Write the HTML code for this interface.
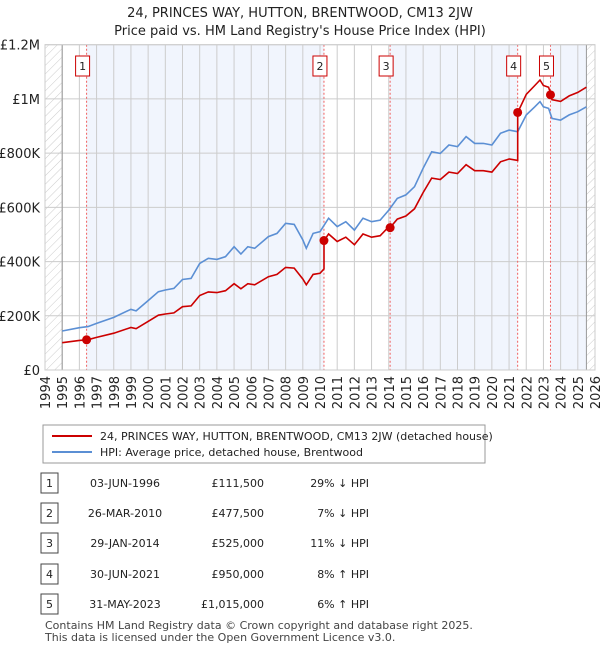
<!DOCTYPE html>
<html><head><meta charset="utf-8"><style>
body{margin:0;background:#fff;font-family:"Liberation Sans","DejaVu Sans",sans-serif;}
#wrap{position:relative;width:600px;height:650px;overflow:hidden}
svg text{font-family:"DejaVu Sans","Liberation Sans",sans-serif}
</style></head><body><div id="wrap">
<svg id="svg" width="600" height="650" xmlns="http://www.w3.org/2000/svg"></svg>
</div>
<script>
const hpiYears=[1995,1996,1996.5,1997,1998,1999,1999.3,2000,2000.6,2001,2001.5,2002,2002.5,2003,2003.5,2004,2004.5,2005,2005.4,2005.8,2006.2,2007,2007.5,2008,2008.5,2009,2009.2,2009.6,2010,2010.5,2011,2011.5,2012,2012.5,2013,2013.5,2014,2014.5,2015,2015.5,2016,2016.5,2017,2017.5,2018,2018.5,2019,2019.5,2020,2020.5,2021,2021.5,2022,2022.5,2022.8,2023,2023.3,2023.5,2024,2024.5,2025,2025.5];
const hpiValues=[144,156,160,172,194,224,218,256,289,295,301,334,338,393,412,408,418,455,428,455,449,492,504,541,537,480,449,504,510,560,529,547,516,560,547,553,590,633,646,676,744,805,799,830,824,861,836,836,830,873,885,879,941,971,990,971,965,928,922,941,953,971];
const saleDates=[1996.42,2010.23,2014.08,2021.5,2023.41];
const salePrices=[111500,477500,525000,950000,1015000];
const saleLabels=["03-JUN-1996","26-MAR-2010","29-JAN-2014","30-JUN-2021","31-MAY-2023"];
const salePriceText=["£111,500","£477,500","£525,000","£950,000","£1,015,000"];
const saleHpiText=["29% ↓ HPI","7% ↓ HPI","11% ↓ HPI","8% ↑ HPI","6% ↑ HPI"];
const yTicks=[0,200000,400000,600000,800000,1000000,1200000];
const yTickLabels=["£0","£200K","£400K","£600K","£800K","£1M","£1.2M"];

const NS="http://www.w3.org/2000/svg";const svg=document.getElementById('svg');
const X0=45,X1=595,Y0=370,Y1=44.7;
const xs=t=>X0+(t-1994)/32*(X1-X0);
const ys=v=>Y0-v/1200000*(Y0-Y1);
function el(tag,a,txt){const e=document.createElementNS(NS,tag);for(const k in a)e.setAttribute(k,a[k]);if(txt!==undefined)e.textContent=txt;svg.appendChild(e);return e;}
function hpiAt(t){for(let i=0;i<hpiYears.length-1;i++){if(t<=hpiYears[i+1]){const f=(t-hpiYears[i])/(hpiYears[i+1]-hpiYears[i]);return (hpiValues[i]+f*(hpiValues[i+1]-hpiValues[i]))*1000;}}return hpiValues[hpiValues.length-1]*1000;}

// hatch pattern
const defs=el('defs',{});
defs.innerHTML='<pattern id="hatch" width="6" height="6" patternUnits="userSpaceOnUse" patternTransform="rotate(45)"><line x1="0" y1="0" x2="0" y2="6" stroke="#ccc" stroke-width="1"/></pattern>';
let e;
e=el('rect',{x:X0,y:Y1,width:xs(1995)-X0,height:Y0-Y1,fill:'url(#hatch)'});
e=el('rect',{x:xs(2025.5),y:Y1,width:X1-xs(2025.5),height:Y0-Y1,fill:'url(#hatch)'});
// shaded bands
const bands=[[saleDates[0],saleDates[1]],[saleDates[2],saleDates[3]],[saleDates[4],2025.5]];
bands.forEach((b,i)=>{const r=el('rect',{x:xs(b[0]),y:Y1,width:xs(b[1])-xs(b[0]),height:Y0-Y1,fill:'#eef3fc',opacity:0.8});});
// grid
for(let yr=1994;yr<=2026;yr++){const l=el('line',{x1:xs(yr),x2:xs(yr),y1:Y1,y2:Y0,stroke:'#ccc','stroke-width':1});
 const tx=el('text',{x:0,y:0,'font-size':13,fill:'#222','text-anchor':'end',transform:`translate(${xs(yr)+5},${Y0+6}) rotate(-90)`},String(yr));}
yTicks.forEach((v,i)=>{const l=el('line',{x1:X0,x2:X1,y1:ys(v),y2:ys(v),stroke:'#ccc','stroke-width':1});
 const t=el('text',{x:40,y:ys(v)+5,'font-size':13,fill:'#222','text-anchor':'end'},yTickLabels[i]);});
e=el('line',{x1:xs(1995),x2:xs(1995),y1:Y1,y2:Y0,stroke:'#999'});
e=el('line',{x1:xs(2025.5),x2:xs(2025.5),y1:Y1,y2:Y0,stroke:'#999'});
// sale dashed lines + boxes
saleDates.forEach((d,i)=>{const l=el('line',{x1:xs(d),x2:xs(d),y1:Y1,y2:Y0,stroke:'#f06060','stroke-width':1,'stroke-dasharray':'2,2'});
 const bx=xs(d)-4;const r=el('rect',{x:bx-7,y:56,width:14,height:20,fill:'#fff',stroke:'#c00'});
 const t=el('text',{x:bx,y:70,'font-size':11,'text-anchor':'middle',fill:'#222'},String(i+1));});
// HPI line
let p='';hpiYears.forEach((t,i)=>{p+=(i?'L':'M')+xs(t).toFixed(1)+','+ys(hpiValues[i]*1000).toFixed(1);});
e=el('path',{d:p,fill:'none',stroke:'#5b8fd4','stroke-width':1.6});
// price paid line (HPI-indexed from sales)
const pts=[];
hpiYears.forEach(t=>pts.push(t));saleDates.forEach(t=>{pts.push(t);pts.push(t+0.0001);});
pts.sort((a,b)=>a-b);
function ratioAt(t){let idx=0;for(let i=0;i<saleDates.length;i++)if(t>=saleDates[i])idx=i;if(t===saleDates[idx]&&idx>0)idx=idx-1;return salePrices[idx]/hpiAt(saleDates[idx]);}
let rp='';pts.forEach((t,i)=>{rp+=(i?'L':'M')+xs(t).toFixed(1)+','+ys(hpiAt(t)*ratioAt(t)).toFixed(1);});
e=el('path',{d:rp,fill:'none',stroke:'#cc0000','stroke-width':1.6});
saleDates.forEach((d,i)=>{const c=el('circle',{cx:xs(d),cy:ys(salePrices[i]),r:4.5,fill:'#cc0000'});});
e=el('rect',{x:X0,y:Y1,width:X1-X0,height:Y0-Y1,fill:'none',stroke:'#ccc'});
// titles
e=el('text',{x:300,y:17,'font-size':13,'text-anchor':'middle',fill:'#222'},'24, PRINCES WAY, HUTTON, BRENTWOOD, CM13 2JW');
e=el('text',{x:300,y:35,'font-size':13,'text-anchor':'middle',fill:'#222'},"Price paid vs. HM Land Registry's House Price Index (HPI)");
// legend
e=el('rect',{x:43,y:425,width:442,height:38,fill:'#fff',stroke:'#999'});
e=el('line',{x1:52,x2:92,y1:436,y2:436,stroke:'#cc0000','stroke-width':2});
e=el('text',{x:100,y:440,'font-size':11,fill:'#222'},'24, PRINCES WAY, HUTTON, BRENTWOOD, CM13 2JW (detached house)');
e=el('line',{x1:52,x2:92,y1:452,y2:452,stroke:'#5b8fd4','stroke-width':2});
e=el('text',{x:100,y:456,'font-size':11,fill:'#222'},'HPI: Average price, detached house, Brentwood');
// table
const rowY=[483,513,543,574,604];
saleDates.forEach((d,i)=>{const y=rowY[i];
 let r=el('rect',{x:41,y:y-10,width:17,height:20,fill:'#fff',stroke:'#444'});
 let t=el('text',{x:49.5,y:y+4,'font-size':11,'text-anchor':'middle',fill:'#222'},String(i+1));
 t=el('text',{x:125,y:y+4,'font-size':11,'text-anchor':'middle',fill:'#222'},saleLabels[i]);
 t=el('text',{x:264,y:y+4,'font-size':11,'text-anchor':'end',fill:'#222'},salePriceText[i]);
 t=el('text',{x:369,y:y+4,'font-size':11,'text-anchor':'end',fill:'#222'},saleHpiText[i]);});
e=el('text',{x:45,y:629,'font-size':11,fill:'#444'},'Contains HM Land Registry data © Crown copyright and database right 2025.');
e=el('text',{x:45,y:641,'font-size':11,fill:'#444'},'This data is licensed under the Open Government Licence v3.0.');
</script></body></html>
